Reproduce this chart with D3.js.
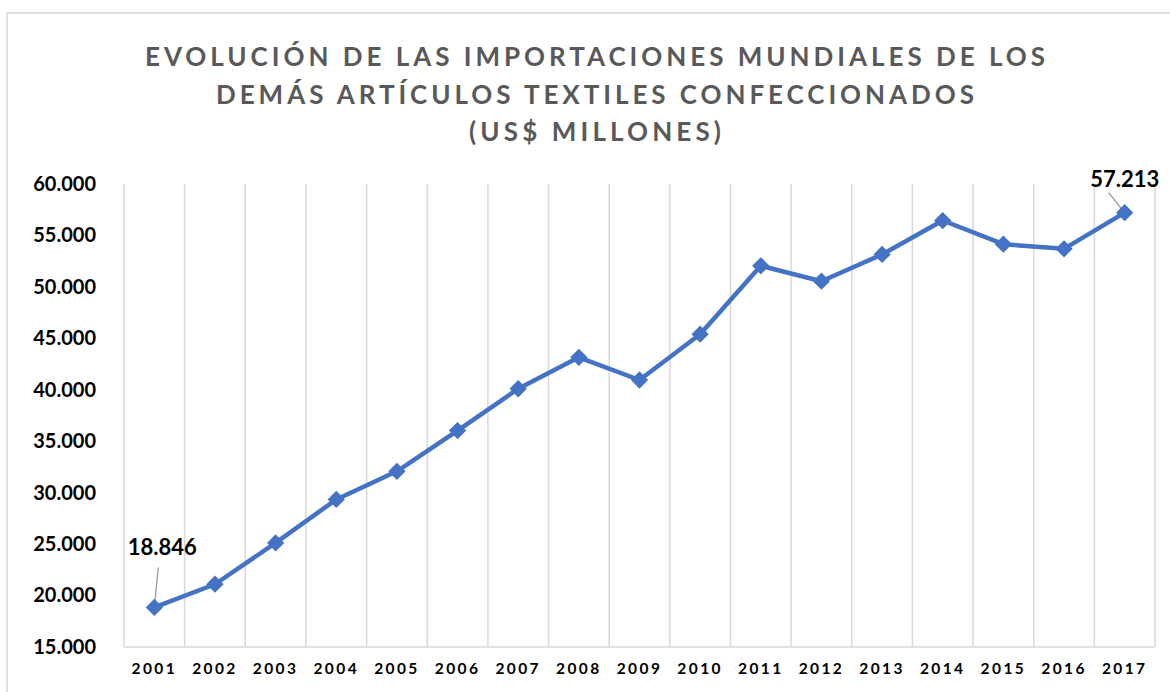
<!DOCTYPE html>
<html>
<head>
<meta charset="utf-8">
<script src="https://cdn.jsdelivr.net/npm/d3@7"></script>
<style>
  body { margin: 0; background: #fff; }
  svg { display: block; }
</style>
</head>
<body>
<div id="chart"></div>
<script>
const width = 1170
const height = 692
const margin = { top: 184, right: 15, bottom: 45, left: 124 }

const titleLines = [
    "EVOLUCIÓN DE LAS IMPORTACIONES MUNDIALES DE LOS",
    "DEMÁS ARTÍCULOS TEXTILES CONFECCIONADOS",
    "(US$ MILLONES)"
]
const titleWidths = [900, 758, 252]

const years = ["2001", "2002", "2003", "2004", "2005", "2006", "2007", "2008", "2009",
    "2010", "2011", "2012", "2013", "2014", "2015", "2016", "2017"]
const imports = [18846, 21100, 25120, 29340, 32080, 36030, 40100, 43150, 40950,
    45400, 52050, 50550, 53150, 56450, 54150, 53700, 57213]
const yTicks = [15000, 20000, 25000, 30000, 35000, 40000, 45000, 50000, 55000, 60000]
const labelled = ["2001", "2017"]

const fmt = d => d3.format(",")(d).replace(/,/g, ".")

const svg = d3.select("#chart")
    .append("svg")
    .attr("width", width)
    .attr("height", height)

// chart frame
svg.append("rect")
    .attr("x", 7)
    .attr("y", 13)
    .attr("width", 1180)
    .attr("height", 700)
    .attr("fill", "none")
    .attr("stroke", "#d9d9d9")
    .attr("stroke-width", 1.5)

// title
svg.append("g")
    .selectAll("text")
    .data(titleLines)
    .join("text")
    .attr("x", 595)
    .attr("y", (d, i) => 66 + i * 37.5)
    .attr("text-anchor", "middle")
    .attr("font-family", "Lato, 'Open Sans', sans-serif")
    .attr("font-weight", "bold")
    .attr("font-size", 26)
    .attr("fill", "#595959")
    .attr("textLength", (d, i) => titleWidths[i])
    .attr("lengthAdjust", "spacing")
    .text(d => d)

const x = d3.scaleBand()
    .domain(years)
    .range([margin.left, width - margin.right])

const y = d3.scaleLinear()
    .domain([15000, 60000])
    .range([height - margin.bottom, margin.top])

// vertical gridlines at category boundaries
svg.append("g")
    .selectAll("line")
    .data(years.concat(["end"]))
    .join("line")
    .attr("x1", (d, i) => margin.left + i * x.step())
    .attr("x2", (d, i) => margin.left + i * x.step())
    .attr("y1", y(60000))
    .attr("y2", y(15000))
    .attr("stroke", "#d9d9d9")
    .attr("stroke-width", 1.5)

// baseline
svg.append("line")
    .attr("x1", margin.left)
    .attr("x2", width - margin.right)
    .attr("y1", y(15000))
    .attr("y2", y(15000))
    .attr("stroke", "#d9d9d9")
    .attr("stroke-width", 1.5)

// y axis
const yAxis = d3.axisLeft(y).tickValues(yTicks).tickFormat(fmt).tickSize(0).tickPadding(28)
svg.append("g")
    .attr("transform", `translate(${margin.left}, 0)`)
    .call(yAxis)
    .call(g => g.select(".domain").remove())
    .selectAll("text")
    .attr("font-family", "Lato, 'Open Sans', sans-serif")
    .attr("font-weight", "bold")
    .attr("font-size", 20)
    .attr("fill", "#000")

// x axis
const xAxis = d3.axisBottom(x).tickSize(0).tickPadding(16)
svg.append("g")
    .attr("transform", `translate(0, ${y(15000)})`)
    .call(xAxis)
    .call(g => g.select(".domain").remove())
    .selectAll("text")
    .attr("font-family", "Lato, 'Open Sans', sans-serif")
    .attr("font-weight", "bold")
    .attr("font-size", 15.5)
    .attr("letter-spacing", "2.4px")
    .attr("fill", "#000")

const data = years.map((d, i) => ({ year: d, value: imports[i] }))
const cx = d => x(d.year) + x.bandwidth() / 2

// line
svg.append("path")
    .datum(data)
    .attr("d", d3.line().x(cx).y(d => y(d.value)))
    .attr("fill", "none")
    .attr("stroke", "#4472c4")
    .attr("stroke-width", 4.5)
    .attr("stroke-linejoin", "round")

// leader lines for labels
const leaders = {
    "2001": { dx: 4, dy: -40, tx: 8, ty: -52 },
    "2017": { dx: -16, dy: -20, tx: 0, ty: -26 }
}
const lab = data.filter(d => labelled.includes(d.year))

svg.append("g")
    .selectAll("line")
    .data(lab)
    .join("line")
    .attr("x1", cx)
    .attr("y1", d => y(d.value))
    .attr("x2", d => cx(d) + leaders[d.year].dx)
    .attr("y2", d => y(d.value) + leaders[d.year].dy)
    .attr("stroke", "#a6a6a6")
    .attr("stroke-width", 1.5)

// markers
svg.append("g")
    .selectAll("path")
    .data(data)
    .join("path")
    .attr("transform", d => `translate(${cx(d)}, ${y(d.value)})`)
    .attr("d", d3.symbol(d3.symbolDiamond2, 190))
    .attr("fill", "#4472c4")

// data labels
svg.append("g")
    .selectAll("text")
    .data(lab)
    .join("text")
    .attr("x", d => cx(d) + leaders[d.year].tx)
    .attr("y", d => y(d.value) + leaders[d.year].ty)
    .attr("text-anchor", "middle")
    .attr("font-family", "Lato, 'Open Sans', sans-serif")
    .attr("font-weight", "bold")
    .attr("font-size", 22)
    .attr("fill", "#000")
    .text(d => fmt(d.value))
</script>
</body>
</html>
